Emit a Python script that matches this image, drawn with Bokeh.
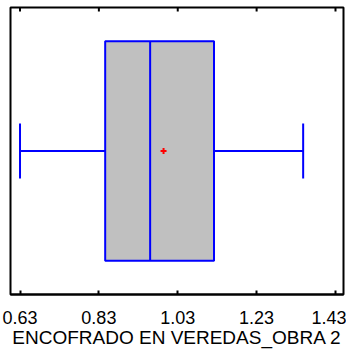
from bokeh.plotting import figure
from bokeh.models import FixedTicker, Range1d, ColumnDataSource
from bokeh.embed import file_html
from bokeh.resources import INLINE

# data
x_min = [0.63]
q1 = [0.846]
median = [0.960]
q3 = [1.122]
x_max = [1.348]
mean = [0.994]
tick_values = [0.63, 0.83, 1.03, 1.23, 1.43]
tick_labels = ["0.63", "0.83", "1.03", "1.23", "1.43"]
axis_title = "ENCOFRADO EN VEREDAS_OBRA 2"

FONT = "Liberation Sans"
BLUE = "#0000FF"

p = figure(width=346, height=350, output_backend="svg", toolbar_location=None,
           x_range=Range1d(0.6059, 1.4503), y_range=Range1d(-0.5, 0.5),
           min_border_left=10, min_border_right=3, min_border_top=7, min_border_bottom=0)
p.grid.visible = False
p.yaxis.visible = False
p.outline_line_color = "black"
p.outline_line_width = 2
p.outline_line_alpha = 1
p.background_fill_color = "white"
p.border_fill_color = "white"

yc = 0.0
box_half = 0.382
cap_half = 0.096
tick_len = 0.014

src = ColumnDataSource(dict(lo=x_min, q1=q1, med=median, q3=q3, hi=x_max, mean=mean,
                            y=[yc]))

p.quad(left="q1", right="q3", bottom=yc - box_half, top=yc + box_half, source=src,
       fill_color="#C0C0C0", line_color=BLUE, line_width=2)
p.segment(x0="med", x1="med", y0=yc - box_half, y1=yc + box_half, source=src,
          line_color=BLUE, line_width=2)
p.segment(x0="lo", x1="q1", y0="y", y1="y", source=src, line_color=BLUE, line_width=2)
p.segment(x0="q3", x1="hi", y0="y", y1="y", source=src, line_color=BLUE, line_width=2)
p.segment(x0="lo", x1="lo", y0=yc - cap_half, y1=yc + cap_half, source=src,
          line_color=BLUE, line_width=2)
p.segment(x0="hi", x1="hi", y0=yc - cap_half, y1=yc + cap_half, source=src,
          line_color=BLUE, line_width=2)
p.scatter(x="mean", y="y", source=src, marker="cross", size=6, line_color="red",
          line_width=2)

# mirrored tick marks along the top edge of the frame
p.segment(x0=tick_values, x1=tick_values, y0=0.5, y1=0.5 - tick_len,
          line_color="black", line_width=2)

ax = p.xaxis[0]
ax.ticker = FixedTicker(ticks=tick_values)
ax.major_label_overrides = {v: l for v, l in zip(tick_values, tick_labels)}
ax.minor_tick_line_color = None
ax.major_tick_in = 4
ax.major_tick_out = 0
ax.major_tick_line_width = 2
ax.axis_line_width = 2
ax.major_label_text_font = FONT
ax.major_label_text_font_size = "18px"
ax.major_label_text_color = "black"
ax.major_label_standoff = 16
ax.axis_label = axis_title
ax.axis_label_text_font = FONT
ax.axis_label_text_font_size = "19px"
ax.axis_label_text_font_style = "normal"
ax.axis_label_text_color = "black"
ax.axis_label_standoff = 0

open("out.html", "w").write(file_html(p, INLINE))
